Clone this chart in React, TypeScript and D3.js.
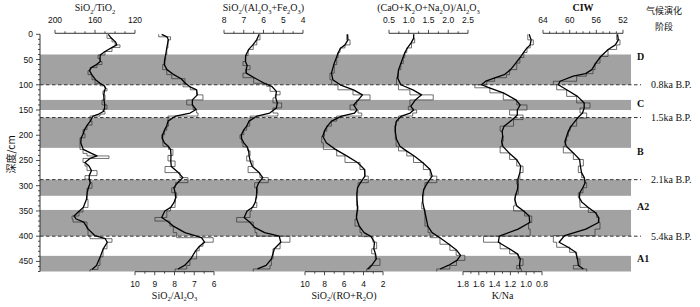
import React from 'react';
import * as d3 from 'd3';

const W = 700;
const H = 307;

// ---- Data (depth in cm) ----
const tiDepth = [0, 8, 15, 21, 26, 34, 41, 48, 54, 60, 66, 72, 80, 90, 97, 102, 107, 112, 120, 130, 140, 148, 153, 158, 162, 172, 180, 189, 197, 205, 215, 228, 236, 241, 246, 254, 261, 270, 280, 287, 294, 305, 313, 327, 343, 352, 360, 366, 372, 386, 399, 405, 412, 425, 441, 458, 466];
const tiValue = [148, 143, 140, 135, 143, 150, 157, 155, 153, 158, 165, 167, 163, 160, 155, 150, 148, 152, 150, 153, 148, 152, 150, 155, 165, 163, 168, 172, 170, 175, 175, 172, 168, 146, 172, 170, 168, 158, 170, 165, 163, 168, 168, 167, 172, 176, 183, 182, 168, 167, 165, 143, 148, 152, 155, 157, 165];

const alDepth = [0, 5, 11, 27, 40, 51, 60, 70, 80, 88, 97, 104, 110, 120, 130, 140, 149, 156, 162, 172, 182, 190, 199, 207, 215, 222, 228, 240, 251, 262, 274, 284, 294, 304, 314, 324, 333, 343, 350, 363, 370, 380, 393, 403, 412, 420, 429, 445, 458, 465];
const alValue = [8.8, 8.2, 8.33, 8.39, 8.45, 8.48, 8.6, 8.39, 8.14, 7.47, 7.57, 7.2, 6.88, 6.56, 7.38, 7.06, 6.88, 6.81, 8.33, 8.3, 8.39, 8.5, 8.65, 8.6, 8.58, 8.3, 8.08, 8.33, 7.97, 8.48, 7.72, 7.32, 7.95, 8.14, 7.89, 7.95, 7.97, 8.2, 8.39, 8.99, 8.23, 8.06, 7.89, 6.04, 6.56, 6.75, 6.88, 7.22, 7.38, 7.97];

const safDepth = [0, 11, 21, 30, 42, 54, 62, 70, 77, 86, 97, 103, 113, 120, 126, 136, 146, 156, 162, 172, 182, 190, 199, 207, 215, 223, 231, 241, 251, 262, 274, 284, 294, 304, 314, 324, 333, 343, 350, 363, 372, 383, 393, 400, 412, 425, 445, 458, 465];
const safValue = [6.18, 6.34, 6.52, 6.78, 6.9, 7.04, 6.68, 6.9, 7.04, 6.5, 5.84, 5.67, 5.16, 5.4, 5.52, 5.08, 5.52, 5.27, 6.68, 6.7, 6.85, 7.0, 7.19, 7.1, 7.04, 6.8, 6.68, 6.85, 6.53, 6.78, 6.18, 5.76, 6.45, 6.3, 6.34, 6.4, 6.34, 6.6, 6.68, 7.36, 6.52, 6.43, 6.34, 4.66, 5.16, 5.52, 5.6, 5.67, 6.52];

const roDepth = [0, 11, 21, 27, 36, 46, 60, 77, 90, 100, 110, 120, 130, 140, 150, 156, 162, 172, 182, 192, 202, 215, 228, 241, 254, 268, 281, 294, 304, 314, 327, 340, 350, 360, 366, 380, 393, 401, 412, 425, 435, 445, 458, 465];
const roValue = [5.72, 5.38, 5.9, 6.41, 6.6, 6.75, 7.0, 7.44, 7.26, 6.62, 5.08, 3.33, 4.7, 5.38, 4.56, 4.18, 6.75, 7.3, 7.77, 8.0, 8.29, 8.12, 6.75, 5.9, 4.36, 3.85, 3.51, 4.56, 4.6, 4.7, 4.7, 4.56, 4.65, 4.7, 4.87, 4.36, 4.18, 3.03, 2.65, 3.16, 2.8, 2.31, 3.33, 3.67];

const cknDepth = [0, 8, 17, 27, 36, 46, 58, 70, 86, 100, 110, 120, 130, 143, 150, 156, 162, 172, 182, 195, 208, 222, 231, 241, 254, 268, 281, 294, 307, 320, 333, 346, 360, 380, 393, 403, 416, 428, 438, 448, 458, 465];
const cknValue = [1.12, 1.15, 1.07, 0.95, 0.9, 0.86, 0.8, 0.74, 0.69, 0.74, 1.03, 1.62, 1.03, 0.99, 1.2, 1.1, 0.74, 0.68, 0.65, 0.66, 0.68, 0.74, 0.95, 1.12, 1.37, 1.54, 1.71, 1.41, 1.38, 1.35, 1.33, 1.41, 1.41, 1.49, 1.54, 1.79, 2.04, 2.2, 2.42, 2.21, 2.04, 1.71];

const knaDepth = [0, 11, 21, 27, 36, 46, 57, 70, 80, 86, 93, 100, 106, 116, 130, 140, 150, 160, 169, 182, 192, 202, 212, 222, 235, 248, 261, 274, 287, 297, 307, 317, 327, 340, 350, 360, 373, 386, 400, 412, 425, 435, 445, 458, 465];
const knaValue = [0.98, 0.91, 0.95, 0.99, 1.03, 1.08, 1.12, 1.21, 1.25, 1.4, 1.5, 1.65, 1.46, 1.29, 1.12, 0.99, 1.21, 1.04, 1.16, 1.33, 1.3, 1.29, 1.31, 1.33, 1.21, 1.12, 1.04, 1.08, 1.12, 1.1, 1.1, 1.14, 1.14, 1.16, 1.02, 0.93, 0.97, 0.95, 1.54, 1.33, 1.21, 1.1, 1.04, 1.12, 1.06];

const ciwDepth = [0, 11, 21, 30, 44, 57, 70, 78, 83, 93, 100, 110, 123, 136, 146, 156, 166, 182, 192, 202, 212, 222, 235, 248, 261, 274, 284, 294, 304, 314, 324, 333, 343, 353, 363, 373, 386, 399, 412, 422, 432, 445, 458, 465];
const ciwValue = [52.95, 52.45, 52.95, 54.25, 55.45, 56.2, 56.5, 57.5, 58.95, 62.45, 61.95, 60.45, 58.95, 56.95, 58.45, 57.45, 58.95, 59.95, 60.2, 60.45, 60.7, 60.95, 59.45, 57.95, 58.7, 58.2, 57.8, 57.45, 58.0, 58.7, 58.5, 58.45, 57.2, 55.95, 55.6, 55.45, 56.2, 62.45, 61.95, 60.0, 58.95, 58.45, 59.45, 57.45];

const bandTop = [40, 130, 165, 288, 348, 439];
const bandBottom = [100, 150, 225, 320, 400, 470];
const boundaryDepth = [100, 165, 288, 400];
const boundaryLabel = ['0.8ka B.P.', '1.5ka B.P.', '2.1ka B.P.', '5.4ka B.P.'];
const stageLabel = ['D', 'C', 'B', 'A2', 'A1'];
const stageDepth = [44, 137, 233, 342, 444];
const depthTicks = [0, 50, 100, 150, 200, 250, 300, 350, 400, 450];

const tiTicks = [200, 160, 120];
const alTicks = [10, 9, 8, 7, 6];
const safTicks = [8, 7, 6, 5, 4];
const roTicks = [10, 8, 6, 4, 2];
const cknTicks = [0.5, 1.0, 1.5, 2.0, 2.5];
const knaTicks = [1.8, 1.6, 1.4, 1.2, 1.0, 0.8];
const ciwTicks = [64, 60, 56, 52];

// ---- Layout ----
const DEPTH_MAX = 470;
const Y0 = 34.3;
const Y1 = 271.5;
const AXIS_X = 40;
const BAND_RIGHT = 631;
const DASH_RIGHT = 641;
const GRAY = '#a2a2a2';

type Panel = {
  depth: number[];
  value: number[];
  domain: [number, number];
  range: [number, number];
  side: 'top' | 'bottom';
  majors: number[];
  minorStep: number;
  digits: number;
  title: string;
  bold?: boolean;
};

const panels: Panel[] = [
  { depth: tiDepth, value: tiValue, domain: [200, 120], range: [55, 135], side: 'top', majors: tiTicks, minorStep: 10, digits: 0, title: 'SiO_2/TiO_2' },
  { depth: alDepth, value: alValue, domain: [10, 6], range: [135, 214], side: 'bottom', majors: alTicks, minorStep: 0.5, digits: 0, title: 'SiO_2/Al_2O_3' },
  { depth: safDepth, value: safValue, domain: [8, 4], range: [224, 303], side: 'top', majors: safTicks, minorStep: 0.5, digits: 0, title: 'SiO_2/(Al_2O_3+Fe_2O_3)' },
  { depth: roDepth, value: roValue, domain: [10, 2], range: [305, 383], side: 'bottom', majors: roTicks, minorStep: 1, digits: 0, title: 'SiO_2/(RO+R_2O)' },
  { depth: cknDepth, value: cknValue, domain: [0.5, 2.5], range: [389, 468], side: 'top', majors: cknTicks, minorStep: 0.25, digits: 1, title: '(CaO+K_2O+Na_2O)/Al_2O_3' },
  { depth: knaDepth, value: knaValue, domain: [1.8, 0.8], range: [463, 542], side: 'bottom', majors: knaTicks, minorStep: 0.1, digits: 1, title: 'K/Na' },
  { depth: ciwDepth, value: ciwValue, domain: [64, 52], range: [543, 623], side: 'top', majors: ciwTicks, minorStep: 1, digits: 0, title: 'CIW', bold: true },
];

function Formula({ text, x, y, size, bold }: { text: string; x: number; y: number; size: number; bold?: boolean }) {
  const parts = text.split(/_(\d)/);
  const nodes: React.ReactNode[] = [];
  let sub = false;
  parts.forEach((p, i) => {
    if (i % 2 === 1) {
      nodes.push(
        <tspan key={i} fontSize={size * 0.65} dy={size * 0.25}>{p}</tspan>
      );
      sub = true;
    } else if (p.length) {
      nodes.push(
        <tspan key={i} dy={sub ? -size * 0.25 : 0}>{p}</tspan>
      );
      sub = false;
    }
  });
  return (
    <text x={x} y={y} textAnchor="middle" fontFamily="Liberation Serif" fontWeight={bold ? 'bold' : 'normal'} fontSize={size} fill="#111">
      {nodes}
    </text>
  );
}

// light running smoothing for the bold trend line
function smoothValues(v: number[]): number[] {
  return v.map((val, i) => {
    const a = v[Math.max(0, i - 1)];
    const c = v[Math.min(v.length - 1, i + 1)];
    return 0.25 * a + 0.5 * val + 0.25 * c;
  });
}

export default function App() {
  const y = d3.scaleLinear().domain([0, DEPTH_MAX]).range([Y0, Y1]);

  const curves = panels.map((p, i) => {
    const x = d3.scaleLinear().domain(p.domain).range(p.range);
    const pts: [number, number][] = p.depth.map((d, k) => [x(p.value[k]), y(d)]);
    const stepPts: [number, number][] = [...pts, [x(p.value[p.value.length - 1]), y(DEPTH_MAX)]];
    const stepLine = d3.line().curve(d3.curveStepBefore)(stepPts) || '';
    const sv = smoothValues(p.value);
    const spts: [number, number][] = p.depth.map((d, k) => [x(sv[k]), y(d)]);
    const smooth = d3.line().curve(d3.curveLinear)(spts) || '';

    const lo = Math.min(p.domain[0], p.domain[1]);
    const hi = Math.max(p.domain[0], p.domain[1]);
    const n = Math.round((hi - lo) / p.minorStep);
    const minors = d3.range(n + 1).map((k) => lo + k * p.minorStep);
    const axisY = p.side === 'top' ? 33.3 : 271.7;
    const dir = p.side === 'top' ? -1 : 1;
    const isMajor = (v: number) => p.majors.some((m) => Math.abs(m - v) < 1e-6);
    const mid = (p.range[0] + p.range[1]) / 2;

    return (
      <g key={i}>
        <path d={stepLine} fill="none" stroke="#333" strokeWidth={0.7} />
        <path d={smooth} fill="none" stroke="#000" strokeWidth={1.3} strokeLinejoin="round" />
        <line x1={p.range[0]} x2={p.range[1]} y1={axisY} y2={axisY} stroke="#222" strokeWidth={0.9} />
        {minors.map((v, k) => (
          <line key={k} x1={x(v)} x2={x(v)} y1={axisY} y2={axisY + dir * (isMajor(v) ? 3.5 : 2)} stroke="#222" strokeWidth={0.8} />
        ))}
        {p.majors.map((v, k) => (
          <text key={'l' + k} x={x(v)} y={p.side === 'top' ? 23.3 : 287} textAnchor="middle" fontFamily="Liberation Sans" fontSize={8.5} fill="#111">
            {v.toFixed(p.digits)}
          </text>
        ))}
        <Formula text={p.title} x={mid} y={p.side === 'top' ? 11 : 298.5} size={10} bold={p.bold} />
      </g>
    );
  });

  return (
    <svg width={W} height={H} style={{ position: 'absolute', left: 0, top: 0 }}>
      <rect x={0} y={0} width={W} height={H} fill="#fff" />
      {bandTop.map((t, i) => (
        <rect key={i} x={AXIS_X} y={y(t)} width={BAND_RIGHT - AXIS_X} height={y(bandBottom[i]) - y(t)} fill={GRAY} />
      ))}
      {boundaryDepth.map((d, i) => (
        <g key={i}>
          <line x1={AXIS_X} x2={DASH_RIGHT} y1={y(d)} y2={y(d)} stroke="#333" strokeWidth={1} strokeDasharray="3.5,2.5" />
          <text x={651} y={y(d) + 3.5} fontFamily="Liberation Serif" fontSize={10} fill="#111">{boundaryLabel[i]}</text>
        </g>
      ))}
      {stageLabel.map((s, i) => (
        <text key={i} x={637} y={y(stageDepth[i]) + 3.5} fontFamily="Liberation Serif" fontWeight="bold" fontSize={10} fill="#111">{s}</text>
      ))}
      {curves}
      {/* depth axis */}
      <line x1={AXIS_X} x2={AXIS_X} y1={y(0)} y2={y(DEPTH_MAX)} stroke="#222" strokeWidth={0.9} />
      {d3.range(0, DEPTH_MAX + 1, 10).map((d) => (
        <line key={d} x1={AXIS_X} x2={AXIS_X - (d % 50 === 0 ? 4 : 2)} y1={y(d)} y2={y(d)} stroke="#222" strokeWidth={0.8} />
      ))}
      {depthTicks.map((d) => (
        <text key={'t' + d} x={33} y={y(d) + 3} textAnchor="end" fontFamily="Liberation Sans" fontSize={8.5} fill="#111">{d}</text>
      ))}
      <text transform={`translate(15,${y(238)}) rotate(-90)`} textAnchor="middle" fontFamily="Noto Sans CJK SC" fontSize={10} fill="#111">深度/cm</text>
      <text x={664} y={14} textAnchor="middle" fontFamily="Noto Sans CJK SC" fontSize={9} fill="#111">气候演化</text>
      <text x={664} y={30} textAnchor="middle" fontFamily="Noto Sans CJK SC" fontSize={9} fill="#111">阶段</text>
    </svg>
  );
}
